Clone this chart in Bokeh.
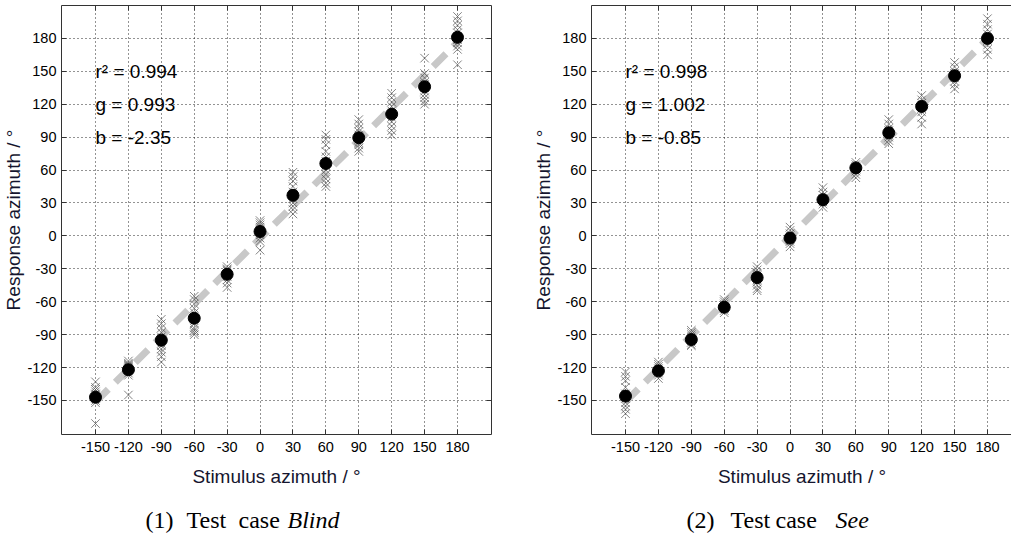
from bokeh.plotting import figure
from bokeh.layouts import row, column
from bokeh.models import Range1d, LinearAxis, FixedTicker, Label
from bokeh.core.properties import value
from bokeh.embed import file_html
from bokeh.resources import INLINE

# ---------------- data ----------------
stimulus = [-150, -120, -90, -60, -30, 0, 30, 60, 90, 120, 150, 180]
tick_values = [-150, -120, -90, -60, -30, 0, 30, 60, 90, 120, 150, 180]
tick_labels = ["-150", "-120", "-90", "-60", "-30", "0", "30", "60", "90", "120", "150", "180"]

blind_mean = [-147, -122, -95, -75, -35, 4, 37, 66, 89.5, 111, 136, 181]
blind_resp = [
    [-133, -138, -140, -142, -144, -145, -147, -148, -150, -152, -171],
    [-114, -116, -117, -118, -119, -120, -121, -122, -123, -125, -127, -145],
    [-76, -80, -84, -88, -92, -95, -98, -100, -103, -106, -110, -115],
    [-55, -58, -62, -66, -70, -75, -80, -84, -86, -88, -90],
    [-28, -30, -31, -32, -34, -35, -37, -40, -43, -47],
    [14, 12, 10, 8, 6, 5, 3, 1, -2, -5, -13],
    [58, 54, 50, 45, 40, 37, 34, 30, 27, 24, 20],
    [92, 88, 83, 77, 72, 68, 64, 60, 56, 52, 48, 45],
    [106, 102, 98, 95, 92, 90, 88, 85, 83, 80, 77],
    [130, 126, 122, 118, 114, 112, 108, 104, 100, 96, 92],
    [162, 148, 144, 140, 138, 135, 132, 129, 126, 123, 120],
    [200, 196, 192, 188, 185, 182, 179, 176, 173, 170, 156],
]
blind_r2, blind_g, blind_b = "0.994", 0.993, -2.35

see_mean = [-146, -123, -94.5, -65, -38, -2, 33, 62, 94, 118, 146, 180]
see_resp = [
    [-124, -128, -132, -138, -144, -148, -152, -155, -158, -162],
    [-115, -117, -119, -121, -123, -124, -125, -127, -130],
    [-86, -88, -90, -92, -94, -95, -97, -99, -100],
    [-58, -60, -62, -64, -65, -66, -68, -70],
    [-28, -31, -34, -36, -38, -40, -42, -45, -48, -50],
    [8, 5, 2, 0, -2, -3, -5, -7, -10],
    [44, 40, 37, 34, 33, 31, 29, 26],
    [67, 65, 63, 62, 61, 59, 56, 53],
    [106, 102, 98, 96, 94, 92, 90, 87, 84],
    [128, 124, 121, 119, 118, 116, 113, 108, 102],
    [158, 154, 150, 148, 146, 144, 141, 138, 134],
    [198, 193, 188, 184, 181, 178, 174, 170, 165],
]
see_r2, see_g, see_b = "0.998", 1.002, -0.85

fit_x = [-150, 180]

caption_words = [["(1)", "Test", "case", "Blind"], ["(2)", "Test", "case", "See"]]

SANS = "Liberation Sans"
SERIF = "Liberation Serif"
overrides = {v: t for v, t in zip(tick_values, tick_labels)}


def style_axis(ax, show_labels):
    ax.ticker = FixedTicker(ticks=tick_values)
    ax.major_label_overrides = overrides
    ax.major_tick_in = 5
    ax.major_tick_out = 0
    ax.minor_tick_in = 0
    ax.minor_tick_out = 0
    ax.axis_line_color = "#333333"
    ax.major_tick_line_color = "#333333"
    ax.major_label_text_font = SANS
    if show_labels:
        ax.major_label_text_color = "black"
        ax.major_label_text_font_size = "14.5px"
        ax.major_label_standoff = 5
    else:
        ax.major_label_text_color = None
        ax.major_label_text_font_size = "1px"
        ax.major_label_standoff = 0
    ax.axis_label_text_font = SANS
    ax.axis_label_text_font_size = "19px"
    ax.axis_label_text_font_style = "normal"
    ax.axis_label_text_color = "#15152e"


def make_panel(mean, resp, r2, g, b, xmax, fw, bl, br, right_axis):
    p = figure(frame_width=fw, frame_height=429,
               x_range=Range1d(-181, xmax), y_range=Range1d(-181, 210),
               output_backend="svg", toolbar_location=None,
               min_border_left=bl, min_border_right=br,
               min_border_top=5, min_border_bottom=64,
               x_axis_label="Stimulus azimuth / °", y_axis_label="Response azimuth / °")
    p.outline_line_color = None
    p.background_fill_color = "white"
    p.border_fill_color = "white"
    style_axis(p.xaxis[0], True)
    style_axis(p.yaxis[0], True)
    p.xaxis[0].major_label_standoff = 7
    p.xaxis[0].axis_label_standoff = 11
    p.yaxis[0].axis_label_standoff = 0
    top = LinearAxis()
    style_axis(top, False)
    p.add_layout(top, "above")
    if right_axis:
        rt = LinearAxis()
        style_axis(rt, False)
        p.add_layout(rt, "right")

    for grid in (p.xgrid[0], p.ygrid[0]):
        grid.ticker = FixedTicker(ticks=tick_values)
        grid.grid_line_color = "black"
        grid.grid_line_dash = "1 3"
        grid.grid_line_alpha = 0.85

    # fitted line
    fit_y = [g * v + b for v in fit_x]
    p.line(fit_x, fit_y, line_color="#c8c8c8", line_width=7, line_dash="18 10")

    # individual responses
    xs, ys = [], []
    for s, vals in zip(stimulus, resp):
        for v in vals:
            xs.append(s)
            ys.append(v)
    p.scatter(xs, ys, marker="x", size=12, line_color="#505050", line_alpha=0.7, line_width=1)

    # means
    p.scatter(stimulus, mean, marker="circle", size=12, fill_color="black", line_color="black")

    # statistics text
    for yy, txt in ((150, "r² = " + r2), (120, "g = %.3f" % g), (90, "b = %s" % b)):
        p.add_layout(Label(x=-150, y=yy, text=txt, text_font=SANS, text_font_size="19px",
                           text_baseline="middle", text_align="left", text_color="black"))
    return p


p1 = make_panel(blind_mean, blind_resp, blind_r2, blind_g, blind_b, 211, 430, 61, 39, True)
p2 = make_panel(see_mean, see_resp, see_r2, see_g, see_b, 202.8, 421, 60, 0, False)

# caption strip (pixel-like coordinates: x from left, y from bottom of strip)
cap = figure(frame_width=1011, frame_height=49, x_range=Range1d(0, 1011), y_range=Range1d(0, 49),
             output_backend="svg", toolbar_location=None, min_border=0)
cap.axis.visible = False
cap.grid.visible = False
cap.outline_line_color = None
cap_x = [[145, 186, 238, 287], [686, 730, 775, 835]]
for words, xs in zip(caption_words, cap_x):
    cap.text(x=xs[:3], y=[28, 28, 28], text=words[:3], text_font=value(SERIF), text_font_size="24px",
             text_baseline="alphabetic", text_align="left", text_color="black")
    cap.text(x=[xs[3]], y=[28], text=[words[3]], text_font=value(SERIF), text_font_size="24px",
             text_font_style="italic", text_baseline="alphabetic", text_align="left", text_color="black")

layout = column(row(p1, p2, spacing=0), cap, spacing=0)
open("out.html", "w").write(file_html(layout, INLINE))
